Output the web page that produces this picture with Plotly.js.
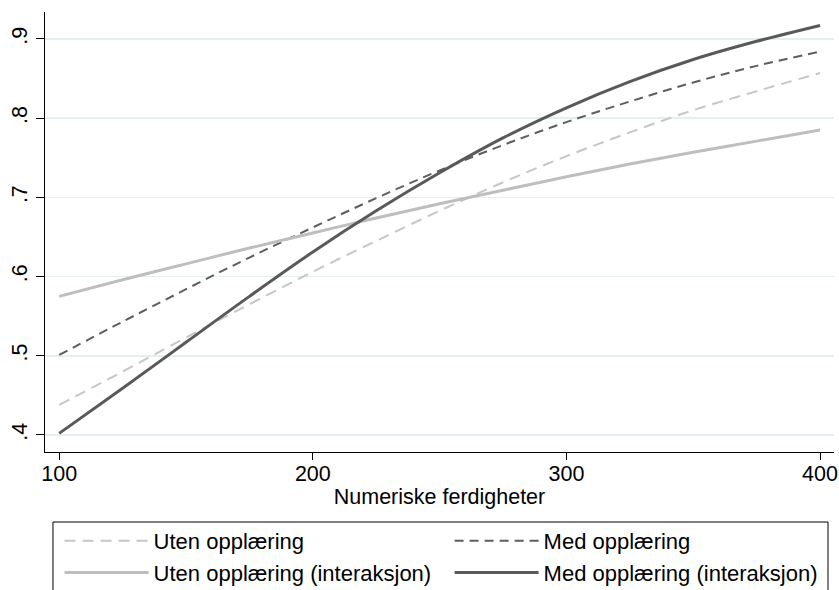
<!DOCTYPE html>
<html>
<head>
<meta charset="utf-8">
<script src="https://cdn.plot.ly/plotly-3.0.1.min.js"></script>
<style>html,body{margin:0;padding:0;background:#fff;}#chart{width:839px;height:590px;}</style>
</head>
<body>
<div id="chart"></div>
<script>
// Numeriske ferdigheter (x)
const skill = [100, 125, 150, 175, 200, 225, 250, 275, 300, 325, 350, 375, 400];
// Predicted probabilities
const utenOpplaering      = [0.438, 0.480, 0.523, 0.565, 0.606, 0.645, 0.683, 0.719, 0.752, 0.782, 0.810, 0.834, 0.857];
const medOpplaering       = [0.501, 0.543, 0.584, 0.624, 0.662, 0.699, 0.734, 0.766, 0.795, 0.821, 0.845, 0.866, 0.884];
const utenOpplaeringInter = [0.575, 0.596, 0.616, 0.636, 0.655, 0.674, 0.692, 0.709, 0.726, 0.742, 0.757, 0.771, 0.785];
const medOpplaeringInter  = [0.402, 0.459, 0.517, 0.575, 0.631, 0.683, 0.731, 0.775, 0.813, 0.846, 0.874, 0.897, 0.917];
const seriesNames = ["Uten opplæring", "Med opplæring", "Uten opplæring (interaksjon)", "Med opplæring (interaksjon)"];
const xTicks = [100, 200, 300, 400];
const yTicks = [0.4, 0.5, 0.6, 0.7, 0.8, 0.9];
const yTickText = [".4", ".5", ".6", ".7", ".8", ".9"];
const xTitle = "Numeriske ferdigheter";

const FONT = "Liberation Sans, Arial, sans-serif";
const traces = [
  {x: skill, y: utenOpplaering, name: seriesNames[0], mode: "lines",
   line: {color: "#c6c6c6", width: 2, dash: "11px,7px", shape: "spline"}},
  {x: skill, y: medOpplaering, name: seriesNames[1], mode: "lines",
   line: {color: "#5e5e5e", width: 2, dash: "9px,6px", shape: "spline"}},
  {x: skill, y: utenOpplaeringInter, name: seriesNames[2], mode: "lines",
   line: {color: "#bebebe", width: 3, shape: "spline"}},
  {x: skill, y: medOpplaeringInter, name: seriesNames[3], mode: "lines",
   line: {color: "#595959", width: 3, shape: "spline"}}
];

const layout = {
  width: 839, height: 590,
  paper_bgcolor: "#ffffff", plot_bgcolor: "#ffffff",
  font: {family: FONT, size: 21, color: "#000000"},
  margin: {l: 45, r: 5, t: 12, b: 138, autoexpand: false},
  showlegend: true,
  xaxis: {
    range: [94.4, 405.5], tickvals: xTicks, ticktext: xTicks.map(String),
    showgrid: false, zeroline: false, showline: true, linecolor: "#000", linewidth: 1,
    ticks: "outside", ticklen: 7, tickcolor: "#000", tickwidth: 1, ticklabelstandoff: -5,
    tickfont: {family: FONT, size: 21.5, color: "#000"},
    title: {text: xTitle, font: {family: FONT, size: 21.5, color: "#000"}, standoff: 4}
  },
  yaxis: {
    range: [0.3785, 0.934], tickvals: yTicks, ticktext: yTickText, tickangle: -90,
    showgrid: true, gridcolor: "#e3eff1", gridwidth: 1.5,
    zeroline: false, showline: true, linecolor: "#000", linewidth: 1,
    ticks: "outside", ticklen: 8, tickcolor: "#000", tickwidth: 1,
    tickfont: {family: FONT, size: 21.5, color: "#000"}
  },
  legend: {
    orientation: "h", x: 0.0185, xanchor: "left", y: -0.1545, yanchor: "top",
    borderwidth: 0, bgcolor: "rgba(0,0,0,0)",
    font: {family: FONT, size: 22, color: "#000"},
    itemwidth: 84, entrywidth: 291, traceorder: "normal",
    tracegroupgap: 0
  },
  shapes: [
    {type: "rect", xref: "paper", yref: "paper",
     x0: 0.0101, x1: 0.9924, y0: -0.1591, y1: -0.40,
     line: {color: "#000", width: 1}, fillcolor: "rgba(0,0,0,0)", layer: "above"}
  ]
};

Plotly.newPlot("chart", traces, layout, {displayModeBar: false, staticPlot: true});
</script>
</body>
</html>
